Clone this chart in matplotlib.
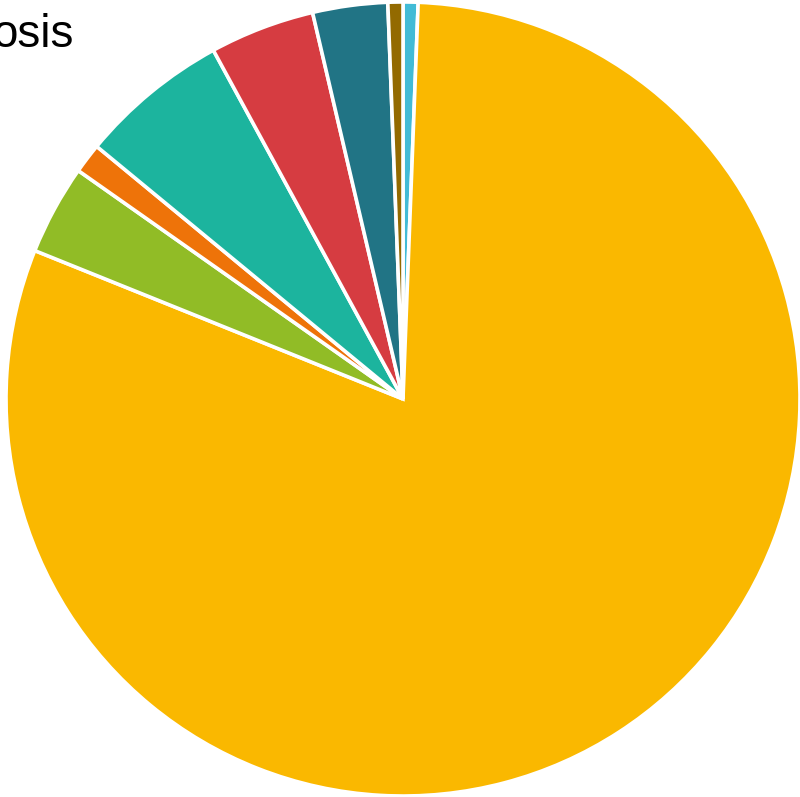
import matplotlib
matplotlib.use("Agg")
import matplotlib.pyplot as plt

# Case counts per category, drawn clockwise from 12 o'clock
labels = ["Cat A", "Cat B", "Cat C", "Cat D", "Cat E", "Cat F", "Cat G", "Cat H"]
counts = [1, 132, 6, 2, 10, 7, 5, 1]
colors = ["#42BBD6", "#FAB800", "#91BC26", "#EE7309", "#1CB49E",
          "#D63C41", "#217485", "#936A00"]

W, H, DPI = 800, 797, 100
fig = plt.figure(figsize=(W / DPI, H / DPI), dpi=DPI)
fig.patch.set_facecolor("white")

cx, cy, r = 403, 399, 397
ax = fig.add_axes([(cx - r) / W, (H - cy - r) / H, 2 * r / W, 2 * r / H])
ax.pie(counts, colors=colors, startangle=90, counterclock=False, radius=1,
       wedgeprops=dict(edgecolor="white", linewidth=2.6))
ax.set_xlim(-1, 1)
ax.set_ylim(-1, 1)
ax.set_aspect("auto")
ax.axis("off")

fig.text(-8 / W, 1 - 47 / H, "osis", fontsize=33, family="Liberation Sans",
         color="black", ha="left", va="baseline")

fig.savefig("out.png", dpi=DPI, facecolor="white")
